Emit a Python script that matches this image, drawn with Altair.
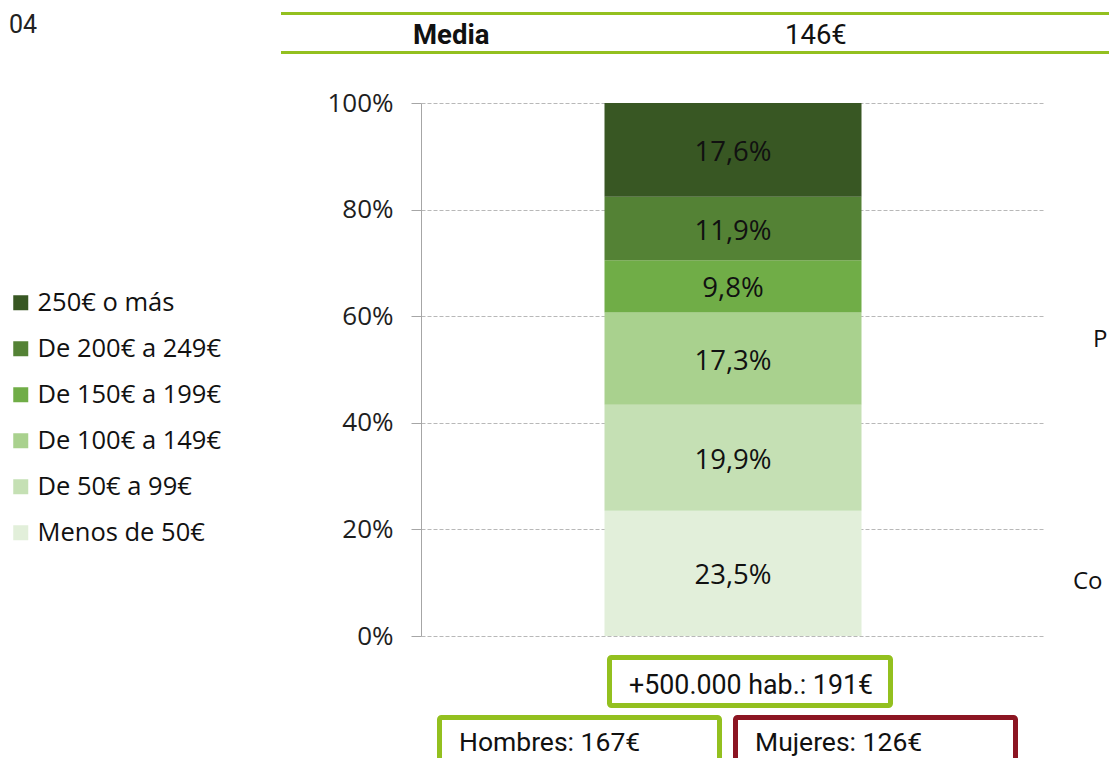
import altair as alt
import pandas as pd

# ---- data ----
categorias = ["Menos de 50€", "De 50€ a 99€", "De 100€ a 149€",
              "De 150€ a 199€", "De 200€ a 249€", "250€ o más"]
valores = [23.5, 19.9, 17.3, 9.8, 11.9, 17.6]
colores = ["#e2efda", "#c5e0b4", "#a9d18e", "#70ad47", "#548235", "#385723"]
grupo = "Total"
ticks_y = [0, 20, 40, 60, 80, 100]
cabecera = ["Media", "146€"]
cajas = ["+500.000 hab.: 191€", "Hombres: 167€", "Mujeres: 126€"]
recortes = ["04", "P", "Co"]

VERDE = "#93c01f"
ROJO = "#8c1522"

df = pd.DataFrame({
    "categoria": categorias,
    "valor": valores,
    "orden": list(range(1, len(categorias) + 1)),
    "grupo": [grupo] * len(categorias),
})

leg_dom = categorias[::-1]
leg_rng = colores[::-1]

bars = alt.Chart(df).mark_bar(size=257).encode(
    x=alt.X("grupo:N", axis=None, scale=alt.Scale(paddingInner=0, paddingOuter=0)),
    y=alt.Y(
        "valor:Q", stack="zero",
        scale=alt.Scale(domain=[0, 100], nice=False),
        axis=alt.Axis(
            values=ticks_y, labelExpr="datum.value + '%'", title=None,
            grid=True, gridDash=[4, 2], gridColor="#b8b8b8", gridWidth=1,
            domainColor="#a6a6a6", tickColor="#a6a6a6", tickSize=10,
            labelPadding=18, labelFont="Open Sans", labelFontSize=26,
            labelColor="#1e1e1e",
        ),
    ),
    color=alt.Color(
        "categoria:N",
        scale=alt.Scale(domain=leg_dom, range=leg_rng),
        legend=alt.Legend(
            title=None, orient="none", legendX=-413, legendY=187,
            symbolType="square", symbolSize=225, symbolStrokeWidth=0,
            labelFont="Open Sans", labelFontSize=25.5, labelColor="#111111",
            labelOffset=4, rowPadding=19, padding=0, labelLimit=400,
        ),
    ),
    order=alt.Order("orden:Q", sort="ascending"),
)

labels = alt.Chart(df).transform_window(
    cum="sum(valor)", sort=[alt.SortField("orden")], frame=[None, 0]
).transform_calculate(
    mid="datum.cum - datum.valor / 2",
    etiqueta="replace(format(datum.valor, '.1f'), '.', ',') + '%'",
).mark_text(font="Open Sans", fontSize=27.5, color="#111111", dy=3).encode(
    x=alt.X("grupo:N"),
    y=alt.Y("mid:Q"),
    text="etiqueta:N",
)

dummy = alt.Data(values=[{"k": 1}])


def rule(y):
    return alt.Chart(dummy).mark_rule(color=VERDE, strokeWidth=3).encode(
        x=alt.value(-140), x2=alt.value(700), y=alt.value(y))


def texto(t, x, y, size=25, font="Roboto", weight="normal", align="left", color="#111111"):
    return alt.Chart(dummy).mark_text(
        text=t, font=font, fontSize=size, fontWeight=weight, align=align,
        baseline="middle", color=color,
    ).encode(x=alt.value(x), y=alt.value(y))


def caja(x1, x2, y1, y2, color):
    return alt.Chart(dummy).mark_rect(
        fill="white", stroke=color, strokeWidth=5, cornerRadius=2
    ).encode(x=alt.value(x1), x2=alt.value(x2), y=alt.value(y1), y2=alt.value(y2))


decor = [
    rule(-89.5), rule(-50.5),
    texto(cabecera[0], -8, -67, size=27.5, weight="bold"),
    texto(cabecera[1], 364, -67, size=27.5),
    caja(188.5, 469.5, 554.5, 602.5, VERDE),
    caja(18.5, 298.5, 614.5, 700, VERDE),
    caja(314.5, 594.5, 614.5, 700, ROJO),
    texto(cajas[0], 208, 583, size=26.8),
    texto(cajas[1], 38, 640, size=26.5),
    texto(cajas[2], 334, 640, size=26.5),
    texto(recortes[0], -412, -78, size=25, align="left", color="#222222"),
    texto(recortes[1], 672, 237, size=24, font="Open Sans"),
    texto(recortes[2], 652, 479, size=24, font="Open Sans"),
]

chart = alt.layer(bars, labels, *decor).properties(
    width=624, height=533,
    autosize=alt.AutoSizeParams(type="none"),
    padding={"left": 413, "top": 95, "right": 64, "bottom": 122},
    background="white",
).configure_view(stroke=None)

chart.save("out.html", embed_options={"renderer": "svg", "actions": False})
